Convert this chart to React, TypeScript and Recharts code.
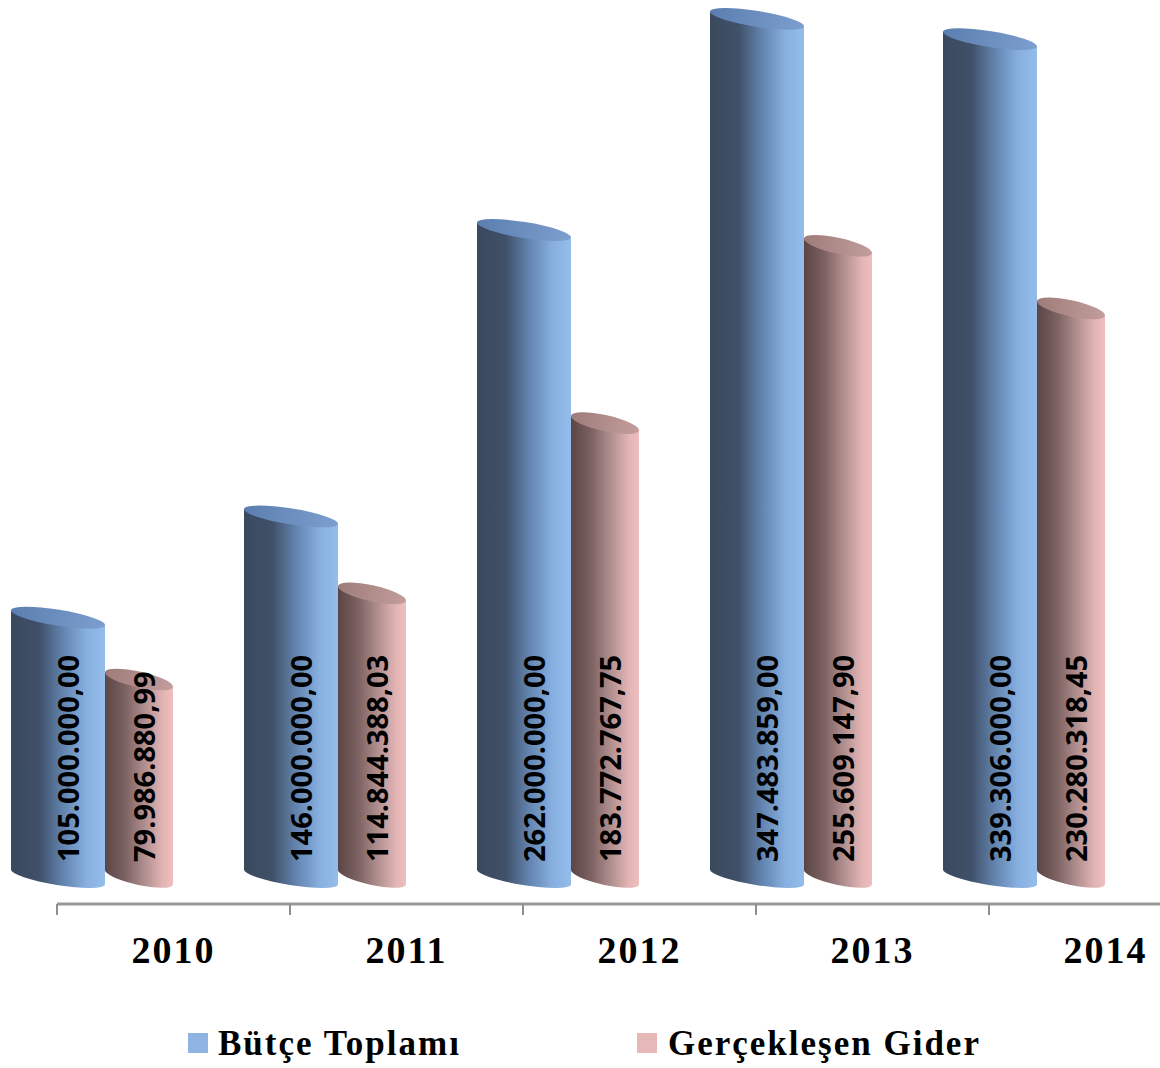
import React from 'react';
import { BarChart, Bar, XAxis, YAxis, Legend } from 'recharts';

const years = ['2010', '2011', '2012', '2013', '2014'];
const butceToplami = [105000000, 146000000, 262000000, 347483859, 339306000];
const gerceklesenGider = [79986880.99, 114844388.03, 183772767.75, 255609147.9, 230280318.45];
const seriesNames = ['Bütçe Toplamı', 'Gerçekleşen Gider'];
const yDomainMax = 360000000;

const data = years.map((y, i) => ({ year: y, butce: butceToplami[i], gider: gerceklesenGider[i] }));

const CHART_W = 1240;
const CHART_H = 1068;
const MARGIN = { top: 15, left: 57, right: 18, bottom: 44 };
const BAND = (CHART_W - MARGIN.left - MARGIN.right) / years.length;
const DX = -69;
const DY = -27;

function formatTR(v: number): string {
  const fixed = v.toFixed(2);
  const [intPart, dec] = fixed.split('.');
  return intPart.replace(/\B(?=(\d{3})+(?!\d))/g, '.') + ',' + dec;
}

function makeCylinder(kind: 'blue' | 'pink') {
  return (props: any) => {
    const { x, y, width, height, value } = props;
    const val = Array.isArray(value) ? value[1] - value[0] : value;
    const w = kind === 'blue' ? width : (width * 68) / 94;
    const x0 = x + DX;
    const yTop = y + DY;
    const yBot = y + height + DY;
    const t = 15;
    const ry = 8;
    const rx = Math.sqrt((w / 2) * (w / 2) + (t / 2) * (t / 2));
    const rot = (Math.atan2(t, w) * 180) / Math.PI;
    const body =
      `M${x0},${yTop - t / 2} L${x0},${yBot - t / 2} ` +
      `A${rx},${ry} ${rot} 0 0 ${x0 + w},${yBot + t / 2} ` +
      `L${x0 + w},${yTop + t / 2} Z`;
    const labelX = x0 + w / 2 + (kind === 'blue' ? 21 : 16);
    const labelY = yBot - 15;
    return (
      <g>
        <path d={body} fill={`url(#body-${kind})`} />
        <ellipse
          cx={x0 + w / 2}
          cy={yTop}
          rx={rx}
          ry={ry}
          transform={`rotate(${rot} ${x0 + w / 2} ${yTop})`}
          fill={`url(#top-${kind})`}
        />
        <text
          x={labelX}
          y={labelY}
          transform={`rotate(-90 ${labelX} ${labelY})`}
          textAnchor="start"
          fontFamily="'Open Sans', sans-serif"
          fontWeight={700}
          fontSize={29}
          fill="#000"
        >
          {formatTR(val)}
        </text>
      </g>
    );
  };
}

const XTick = (props: any) => {
  const { x, y, payload } = props;
  const bx = x - BAND / 2;
  return (
    <g>
      <line x1={bx} x2={bx} y1={y} y2={y + 11} stroke="#8f8f8f" strokeWidth={2} />
      <text
        x={x}
        y={y + 59}
        textAnchor="middle"
        fontFamily="'Liberation Serif', serif"
        fontWeight={700}
        fontSize={38}
        letterSpacing={2}
        fill="#000"
      >
        {payload.value}
      </text>
    </g>
  );
};

const LegendContent = () => (
  <svg width={1160} height={50} style={{ display: 'block' }}>
    <rect x={188} y={15} width={20} height={20} fill="#8fb4e3" />
    <text x={218} y={37} fontFamily="'Liberation Serif', serif" fontWeight={700} fontSize={35} letterSpacing={2} fill="#000">
      {seriesNames[0]}
    </text>
    <rect x={637} y={15} width={20} height={20} fill="#e6b9b8" />
    <text x={668} y={37} fontFamily="'Liberation Serif', serif" fontWeight={700} fontSize={35} letterSpacing={2} fill="#000">
      {seriesNames[1]}
    </text>
  </svg>
);

export default function App() {
  return (
    <div style={{ position: 'absolute', left: 0, top: 0, width: 1160, height: 1068, overflow: 'hidden', background: '#fff' }}>
      <BarChart width={CHART_W} height={CHART_H} data={data} margin={MARGIN} barGap={0}>
        <defs>
          <linearGradient id="body-blue" x1="0" y1="0" x2="1" y2="0">
            <stop offset="0" stopColor="#3a495d" />
            <stop offset="0.3" stopColor="#3f5068" />
            <stop offset="0.55" stopColor="#6283ae" />
            <stop offset="0.8" stopColor="#87afdf" />
            <stop offset="1" stopColor="#94bdec" />
          </linearGradient>
          <linearGradient id="top-blue" x1="0" y1="0" x2="1" y2="0">
            <stop offset="0" stopColor="#5b7eb0" />
            <stop offset="1" stopColor="#7d9fcf" />
          </linearGradient>
          <linearGradient id="body-pink" x1="0" y1="0" x2="1" y2="0">
            <stop offset="0" stopColor="#5a4546" />
            <stop offset="0.3" stopColor="#7d6262" />
            <stop offset="0.6" stopColor="#b39191" />
            <stop offset="0.85" stopColor="#e3b4b4" />
            <stop offset="1" stopColor="#efbfbf" />
          </linearGradient>
          <linearGradient id="top-pink" x1="0" y1="0" x2="1" y2="0">
            <stop offset="0" stopColor="#9e7c7a" />
            <stop offset="1" stopColor="#c29d9b" />
          </linearGradient>
        </defs>
        <XAxis
          dataKey="year"
          height={70}
          tickSize={0}
          tickMargin={0}
          tickLine={false}
          axisLine={{ stroke: '#979797', strokeWidth: 3 }}
          tick={<XTick />}
          interval={0}
        />
        <YAxis hide domain={[0, yDomainMax]} />
        <Legend
          verticalAlign="bottom"
          content={<LegendContent />}
          wrapperStyle={{ position: 'absolute', top: 1018, left: 0, width: 1160, height: 50 }}
        />
        <Bar dataKey="butce" name={seriesNames[0]} barSize={94} fill="#8fb4e3" isAnimationActive={false} shape={makeCylinder('blue')} />
        <Bar dataKey="gider" name={seriesNames[1]} barSize={94} fill="#e6b9b8" isAnimationActive={false} shape={makeCylinder('pink')} />
      </BarChart>
    </div>
  );
}
